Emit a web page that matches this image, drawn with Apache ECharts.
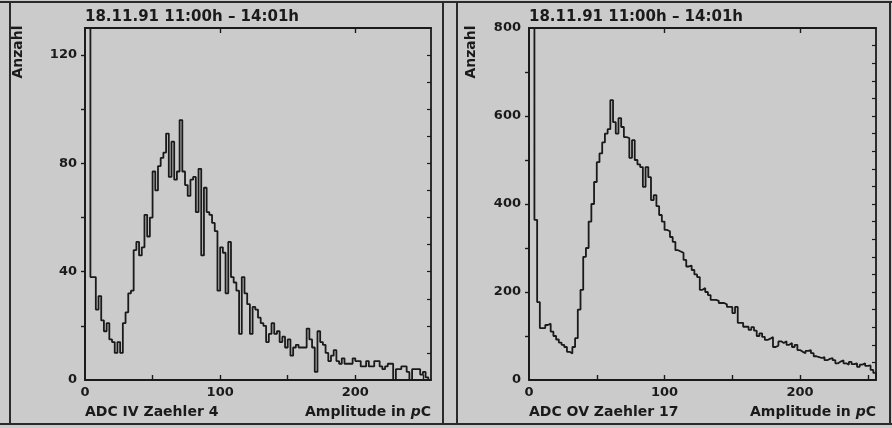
<!DOCTYPE html>
<html><head><meta charset="utf-8">
<script src="https://cdn.jsdelivr.net/npm/echarts@6/dist/echarts.min.js"></script>
<style>html,body{margin:0;padding:0;background:#cbcbcb}#c{width:892px;height:428px}</style>
</head><body><div id="c"></div><script>
// ---- data ----
const binWidth = 2;          // pC per histogram bin
const xMax = 256;
const titleText = '18.11.91 11:00h \u2013 14:01h';
const yName = 'Anzahl';
const leftName = 'ADC IV Zaehler 4';
const rightName = 'ADC OV Zaehler 17';
const xLabelValues = [0, 100, 200];
const xTickValues = [50, 100, 150, 200, 250];
const xTopTickValues = [100, 200];
const leftYMax = 130;
const leftYLabels = [0, 40, 80, 120];
const leftYTicks = [20, 40, 60, 80, 100, 120];
const leftYRightTicks = [10, 20, 30, 40, 50, 60, 70, 80, 90, 100, 110, 120];
const rightYMax = 800;
const rightYLabels = [0, 200, 400, 600, 800];
const rightYTicks = [100, 200, 300, 400, 500, 600, 700];
const rightYRightTicks = [40, 80, 120, 160, 200, 240, 280, 320, 360, 400, 440, 480, 520, 560, 600, 640, 680, 720, 760];

const leftCounts = [
 400,400,38,38,26,31,22,18,21,15,
 14,10,14,10,21,25,32,33,48,51,
 46,49,61,53,60,77,70,79,82,84,
 91,75,88,74,77,96,77,72,68,74,
 75,62,78,46,71,62,61,58,55,33,
 49,47,32,51,38,36,33,17,38,32,
 28,17,27,26,23,21,20,14,17,21,
 17,18,14,16,12,15,9,12,13,12,
 12,12,19,15,12,3,18,14,13,10,
 7,9,11,7,6,8,6,6,6,8,
 7,7,5,5,7,5,5,7,7,5,
 4,5,6,6,0,4,4,5,5,3,
 0,4,4,4,2,3,1,0
];
const rightCounts = [
 2000,2000,364,177,118,118,125,128,110,100,
 92,85,80,75,64,60,75,95,160,205,
 280,300,360,400,450,495,515,540,560,570,
 636,586,560,595,575,552,550,505,545,500,
 490,484,439,484,461,409,420,395,375,360,
 341,338,325,314,295,292,289,273,258,260,
 250,240,234,205,209,200,193,182,182,180,
 175,175,172,166,166,152,166,130,130,121,
 121,114,120,112,100,106,98,91,94,98,
 75,78,88,84,88,80,84,75,80,68,
 64,61,66,68,61,54,52,50,52,45,
 48,50,45,38,42,45,38,35,41,36,
 38,30,35,38,32,33,23,16
];

function stepData(counts) {
  const d = [[0, 0]];
  counts.forEach((v, i) => d.push([i * binWidth, v]));
  d.push([counts.length * binWidth, counts[counts.length - 1]]);
  d.push([counts.length * binWidth, 0]);
  return d;
}

const ink = '#1a1a1a';
const FONT = '"DejaVu Sans", sans-serif';
const grids = [
  { left: 85, right: 461, top: 28, bottom: 48 },
  { left: 529, right: 16, top: 28, bottom: 48 }
];

function bottomX(g) {
  return {
    type: 'value', gridIndex: g, min: 0, max: xMax, position: 'bottom',
    axisLine: { show: true, onZero: false, lineStyle: { color: ink, width: 1.8 } },
    axisTick: { show: true, inside: true, length: 5, customValues: xTickValues, lineStyle: { color: ink, width: 1.4 } },
    axisLabel: { customValues: xLabelValues, color: ink, fontFamily: FONT, fontWeight: 'bold', fontSize: 13, margin: 6 },
    splitLine: { show: false }
  };
}
function topX(g) {
  return {
    type: 'value', gridIndex: g, min: 0, max: xMax, position: 'top',
    axisLine: { show: true, onZero: false, lineStyle: { color: ink, width: 1.8 } },
    axisTick: { show: true, inside: true, length: 5, customValues: xTopTickValues, lineStyle: { color: ink, width: 1.4 } },
    axisLabel: { show: false }, splitLine: { show: false }
  };
}
function leftY(g, max, labels, ticks) {
  return {
    type: 'value', gridIndex: g, min: 0, max: max, position: 'left',
    axisLine: { show: true, onZero: false, lineStyle: { color: ink, width: 1.8 } },
    axisTick: { show: true, inside: false, length: 4, customValues: ticks, lineStyle: { color: ink, width: 1.4 } },
    axisLabel: { customValues: labels, color: ink, fontFamily: FONT, fontWeight: 'bold', fontSize: 13, margin: 8 },
    splitLine: { show: false }
  };
}
function rightY(g, max, ticks) {
  return {
    type: 'value', gridIndex: g, min: 0, max: max, position: 'right',
    axisLine: { show: true, onZero: false, lineStyle: { color: ink, width: 1.8 } },
    axisTick: { show: true, inside: true, length: 4, customValues: ticks, lineStyle: { color: ink, width: 1.2 } },
    axisLabel: { show: false }, splitLine: { show: false }
  };
}

const txt = (x, y, text, opts) => Object.assign({
  type: 'text', x: x, y: y, silent: true,
  style: Object.assign({ text: text, fill: ink, font: 'bold 14px ' + FONT, textVerticalAlign: 'middle' }, opts || {})
});

function ampLabel(xRight) {
  return {
    type: 'text', x: xRight, y: 412, silent: true,
    style: {
      text: '{a|Amplitude in }{i|p}{a|C}',
      align: 'right', verticalAlign: 'middle',
      rich: {
        a: { fontFamily: FONT, fontWeight: 'bold', fontSize: 14, fill: ink },
        i: { fontFamily: FONT, fontWeight: 'bold', fontStyle: 'italic', fontSize: 14, fill: ink }
      }
    }
  };
}

const frame = { stroke: '#2a2a2a', lineWidth: 2 };
const option = {
  backgroundColor: '#cbcbcb',
  animation: false,
  grid: grids,
  xAxis: [bottomX(0), topX(0), bottomX(1), topX(1)],
  yAxis: [leftY(0, leftYMax, leftYLabels, leftYTicks), rightY(0, leftYMax, leftYRightTicks),
          leftY(1, rightYMax, rightYLabels, rightYTicks), rightY(1, rightYMax, rightYRightTicks)],
  series: [
    { type: 'line', xAxisIndex: 0, yAxisIndex: 0, step: 'end', data: stepData(leftCounts), showSymbol: false, clip: true,
      lineStyle: { color: ink, width: 1.8 } },
    { type: 'line', xAxisIndex: 2, yAxisIndex: 2, step: 'end', data: stepData(rightCounts), showSymbol: false, clip: true,
      lineStyle: { color: ink, width: 1.8 } }
  ],
  graphic: [
    { type: 'line', shape: { x1: 0, y1: 2, x2: 892, y2: 2 }, style: frame, silent: true },
    { type: 'line', shape: { x1: 0, y1: 424, x2: 892, y2: 424 }, style: frame, silent: true },
    { type: 'line', shape: { x1: 10, y1: 2, x2: 10, y2: 424 }, style: frame, silent: true },
    { type: 'line', shape: { x1: 443, y1: 2, x2: 443, y2: 424 }, style: frame, silent: true },
    { type: 'line', shape: { x1: 457, y1: 2, x2: 457, y2: 424 }, style: frame, silent: true },
    { type: 'line', shape: { x1: 890, y1: 2, x2: 890, y2: 424 }, style: frame, silent: true },
    txt(85, 17, titleText, { font: 'bold 15px ' + FONT }),
    txt(529, 17, titleText, { font: 'bold 15px ' + FONT }),
    Object.assign(txt(18, 52, yName, { align: 'center', font: 'bold 14px ' + FONT }), { rotation: Math.PI / 2 }),
    Object.assign(txt(471, 52, yName, { align: 'center', font: 'bold 14px ' + FONT }), { rotation: Math.PI / 2 }),
    txt(85, 412, leftName),
    txt(529, 412, rightName),
    ampLabel(431),
    ampLabel(876)
  ]
};
const chart = echarts.init(document.getElementById('c'), null, { renderer: 'canvas' });
chart.setOption(option);
</script></body></html>
